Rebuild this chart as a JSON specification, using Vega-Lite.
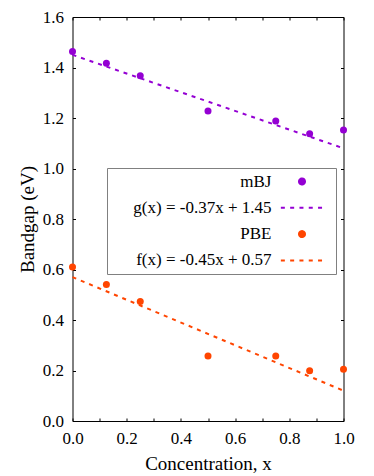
{
  "$schema": "https://vega.github.io/schema/vega-lite/v6.json",
  "width": 271,
  "height": 404,
  "autosize": {"type": "none"},
  "padding": {"left": 72.5, "top": 17, "right": 30.5, "bottom": 55},
  "background": "white",
  "config": {
    "view": {"stroke": null},
    "font": "Liberation Serif",
    "axis": {"labelFont": "Liberation Serif", "titleFont": "Liberation Serif"},
    "legend": {"labelFont": "Liberation Serif", "titleFont": "Liberation Serif"}
  },
  "datasets": {
    "points": [
      {"x": 0, "y": 1.463, "label": "mBJ"},
      {"x": 0.125, "y": 1.417, "label": "mBJ"},
      {"x": 0.25, "y": 1.367, "label": "mBJ"},
      {"x": 0.5, "y": 1.228, "label": "mBJ"},
      {"x": 0.75, "y": 1.188, "label": "mBJ"},
      {"x": 0.875, "y": 1.138, "label": "mBJ"},
      {"x": 1.0, "y": 1.152, "label": "mBJ"},
      {"x": 0, "y": 0.61, "label": "PBE"},
      {"x": 0.125, "y": 0.541, "label": "PBE"},
      {"x": 0.25, "y": 0.473, "label": "PBE"},
      {"x": 0.5, "y": 0.257, "label": "PBE"},
      {"x": 0.75, "y": 0.257, "label": "PBE"},
      {"x": 0.875, "y": 0.199, "label": "PBE"},
      {"x": 1.0, "y": 0.205, "label": "PBE"}
    ],
    "fits": [
      {"x": 0, "y": 1.45, "label": "g(x) = -0.37x + 1.45"},
      {"x": 1, "y": 1.08, "label": "g(x) = -0.37x + 1.45"},
      {"x": 0, "y": 0.57, "label": "f(x) = -0.45x + 0.57"},
      {"x": 1, "y": 0.12, "label": "f(x) = -0.45x + 0.57"}
    ]
  },
  "encoding": {
    "color": {
      "field": "label",
      "type": "nominal",
      "scale": {
        "domain": ["mBJ", "g(x) = -0.37x + 1.45", "PBE", "f(x) = -0.45x + 0.57"],
        "range": ["#9400d3", "#9400d3", "#ff4500", "#ff4500"]
      },
      "legend": {
        "orient": "none",
        "legendX": 34.5,
        "legendY": 151,
        "title": "\u00a0",
        "titleOrient": "right",
        "titlePadding": 4,
        "titleFontSize": 17,
        "titleFont": "Liberation Serif",
        "padding": 5,
        "strokeColor": "#808080",
        "fillColor": "white",
        "rowPadding": 8.3,
        "labelFont": "Liberation Serif",
        "labelFontSize": 17,
        "labelColor": "black",
        "labelLimit": 400,
        "labelExpr": "'\u00a0\u00a0\u00a0\u00a0\u00a0' + datum.label",
        "encoding": {
          "labels": {
            "x": {"value": 159.5},
            "align": {"value": "right"}
          },
          "symbols": {
            "shape": {"value": {"expr": "(datum.value == 'mBJ' || datum.value == 'PBE') ? 'circle' : 'M-7.05,0H7.05'"}},
            "size": {"value": 36},
            "fill": {"value": {"expr": "(datum.value == 'mBJ' || datum.value == 'PBE') ? scale('color', datum.value) : 'transparent'"}},
            "stroke": {"value": {"expr": "(datum.value == 'mBJ' || datum.value == 'PBE') ? 'transparent' : scale('color', datum.value)"}},
            "strokeDash": {"value": {"expr": "(datum.value == 'mBJ' || datum.value == 'PBE') ? [1, 0] : [4, 5.3]"}},
            "strokeWidth": {"value": 2},
            "opacity": {"value": 1},
            "x": {"value": 190}
          }
        }
      }
    }
  },
  "layer": [
    {
      "data": {"name": "fits"},
      "mark": {"type": "line", "strokeDash": [4, 5], "strokeWidth": 2},
      "encoding": {
        "x": {
          "field": "x", "type": "quantitative",
          "scale": {"domain": [0, 1], "nice": false, "zero": false},
          "axis": {
            "orient": "top", "title": null, "labels": false, "grid": false,
            "values": [0, 0.1, 0.2, 0.3, 0.4, 0.5, 0.6, 0.7, 0.8, 0.9, 1.0],
            "tickSize": -3, "tickColor": "black", "domainColor": "black", "domainWidth": 1
          }
        },
        "y": {
          "field": "y", "type": "quantitative",
          "scale": {"domain": [0, 1.6], "nice": false, "zero": false},
          "axis": {
            "orient": "right", "title": null, "labels": false, "grid": false,
            "values": [0, 0.2, 0.4, 0.6, 0.8, 1.0, 1.2, 1.4, 1.6],
            "tickSize": -3, "tickColor": "black", "domainColor": "black", "domainWidth": 1
          }
        }
      }
    },
    {
      "data": {"name": "points"},
      "mark": {"type": "point", "filled": true, "shape": "circle", "size": 49, "opacity": 1},
      "encoding": {
        "x": {
          "field": "x", "type": "quantitative",
          "scale": {"domain": [0, 1], "nice": false, "zero": false},
          "axis": {
            "orient": "bottom", "title": "Concentration, x", "grid": false,
            "values": [0, 0.1, 0.2, 0.3, 0.4, 0.5, 0.6, 0.7, 0.8, 0.9, 1.0],
            "labelExpr": "round(datum.value * 10) % 2 == 0 ? format(datum.value, '.1f') : ''",
            "tickSize": -3, "tickColor": "black", "domainColor": "black", "domainWidth": 1,
            "labelFont": "Liberation Serif", "labelFontSize": 17, "labelColor": "black",
            "labelPadding": 12, "labelFlush": false, "labelOverlap": false,
            "titleFont": "Liberation Serif", "titleFontSize": 19, "titleFontWeight": "normal",
            "titleColor": "black", "titlePadding": 8
          }
        },
        "y": {
          "field": "y", "type": "quantitative",
          "scale": {"domain": [0, 1.6], "nice": false, "zero": false},
          "axis": {
            "orient": "left", "title": "Bandgap (eV)", "grid": false,
            "values": [0, 0.2, 0.4, 0.6, 0.8, 1.0, 1.2, 1.4, 1.6],
            "format": ".1f",
            "tickSize": -3, "tickColor": "black", "domainColor": "black", "domainWidth": 1,
            "labelFont": "Liberation Serif", "labelFontSize": 17, "labelColor": "black",
            "labelPadding": 12, "labelFlush": false, "labelOverlap": false,
            "titleFont": "Liberation Serif", "titleFontSize": 19, "titleFontWeight": "normal",
            "titleColor": "black", "titlePadding": 5
          }
        }
      }
    }
  ],
  "resolve": {"axis": {"x": "independent", "y": "independent"}}
}
